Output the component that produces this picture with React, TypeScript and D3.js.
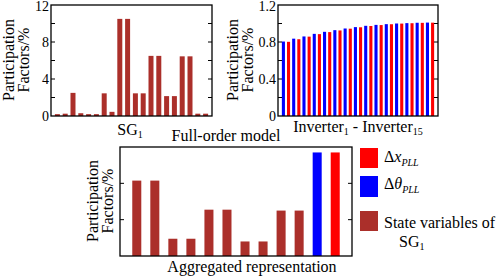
import React from "react";
import * as d3 from "d3";

const sgStates = ["s1","s2","s3","s4","s5","s6","s7","s8","s9","s10","s11","s12","s13","s14","s15","s16","s17","s18","s19","s20"];
const sgValues = [0.2, 0.25, 2.5, 0.3, 0.2, 0.2, 2.45, 0.45, 10.5, 10.5, 2.45, 2.45, 6.5, 6.5, 2.15, 2.15, 6.45, 6.45, 0.25, 0.25];

const invIds = ["1","2","3","4","5","6","7","8","9","10","11","12","13","14","15"];
const invTheta = [0.805, 0.836, 0.86, 0.888, 0.91, 0.928, 0.946, 0.961, 0.975, 0.985, 0.993, 1.0, 1.004, 1.008, 1.01];
const invX = [0.802, 0.83, 0.858, 0.885, 0.907, 0.925, 0.944, 0.959, 0.973, 0.983, 0.992, 0.999, 1.003, 1.007, 1.009];

const aggStates = ["a1","a2","a3","a4","a5","a6","a7","a8","a9","a10","theta","x"];
const aggValues = [8.3, 8.3, 1.9, 1.9, 5.1, 5.1, 1.6, 1.6, 5.0, 5.0, 11.4, 11.4];
const aggKinds = ["sg","sg","sg","sg","sg","sg","sg","sg","sg","sg","theta","x"];

const topLeftTicks = [0, 4, 8, 12];
const topLeftMinor = [2, 4, 6, 8, 10];
const topRightTicks = [0, 0.4, 0.8, 1.2];
const topRightMinor = [0.2, 0.4, 0.6, 0.8, 1.0];
const bottomMinor = [4, 8];

const BROWN = "#AB2F2A";
const BLUE = "#0000FF";
const RED = "#FF0000";
const FONT = "'Liberation Serif', 'Times New Roman', serif";

function Frame({ x0, x1, y0, y1, minor, y }: any) {
  return (
    <g>
      <rect x={x0} y={y1} width={x1 - x0} height={y0 - y1} fill="none" stroke="#000" strokeWidth={1.3} />
      {minor.map((v: number) => (
        <g key={v}>
          <line x1={x0} x2={x0 + 4} y1={y(v)} y2={y(v)} stroke="#000" strokeWidth={1} />
          <line x1={x1} x2={x1 - 4} y1={y(v)} y2={y(v)} stroke="#000" strokeWidth={1} />
        </g>
      ))}
    </g>
  );
}

function YLabel({ cx, cy }: any) {
  return (
    <g transform={`translate(${cx},${cy}) rotate(-90)`} fontFamily={FONT} fontSize={16} textAnchor="middle">
      <text x={0} y={0}>Participation</text>
      <text x={0} y={15}>Factors/%</text>
    </g>
  );
}

export default function App() {
  const tlX = d3.scaleBand<string>().domain(sgStates).range([51, 212]).paddingInner(0.36).paddingOuter(0.5);
  const tlY = d3.scaleLinear().domain([0, 12]).range([116, 5]);

  const invKeys: string[] = [];
  const invVals: number[] = [];
  const invCols: string[] = [];
  invIds.forEach((id, i) => {
    invKeys.push("t" + id); invVals.push(invTheta[i]); invCols.push(BLUE);
    invKeys.push("x" + id); invVals.push(invX[i]); invCols.push(RED);
  });
  const trX = d3.scaleBand<string>().domain(invKeys).range([278, 438]).paddingInner(0.4).paddingOuter(0.75);
  const trY = d3.scaleLinear().domain([0, 1.2]).range([116, 5]);

  const bX = d3.scaleBand<string>().domain(aggStates).range([120, 352]).paddingInner(0.5).paddingOuter(0.68);
  const bY = d3.scaleLinear().domain([0, 12]).range([256, 147]);
  const kindColor: Record<string, string> = { sg: BROWN, theta: BLUE, x: RED };

  return (
    <svg width={498} height={277} style={{ position: "absolute", left: 0, top: 0, background: "#fff" }}>
      <rect x={0} y={0} width={498} height={277} fill="#fff" />
      {sgStates.map((s, i) => (
        <rect key={s} x={tlX(s)} y={tlY(sgValues[i])} width={tlX.bandwidth()} height={tlY(0) - tlY(sgValues[i])} fill={BROWN} />
      ))}
      <Frame x0={51} x1={212} y0={116} y1={5} minor={topLeftMinor} y={tlY} />
      <g fontFamily={FONT} fontSize={14} textAnchor="end">
        {topLeftTicks.map((t) => (
          <text key={t} x={49} y={Math.max(11, tlY(t) + 5)}>{t}</text>
        ))}
      </g>
      <YLabel cx={14} cy={60} />
      <text x={130} y={135} fontFamily={FONT} fontSize={16} textAnchor="middle">
        SG<tspan fontSize={10} dy={3}>1</tspan>
      </text>

      {invKeys.map((k, i) => (
        <rect key={k} x={trX(k)} y={trY(invVals[i])} width={trX.bandwidth()} height={trY(0) - trY(invVals[i])} fill={invCols[i]} />
      ))}
      <Frame x0={278} x1={438} y0={116} y1={5} minor={topRightMinor} y={trY} />
      <g fontFamily={FONT} fontSize={14} textAnchor="end">
        {topRightTicks.map((t) => (
          <text key={t} x={276} y={Math.max(11, trY(t) + 5)}>{t === 0 ? "0" : t.toFixed(1)}</text>
        ))}
      </g>
      <YLabel cx={238} cy={60} />
      <text x={358} y={132} fontFamily={FONT} fontSize={16} textAnchor="middle">
        Inverter<tspan fontSize={10} dy={3}>1</tspan><tspan dy={-3}> - Inverter</tspan><tspan fontSize={10} dy={3}>15</tspan>
      </text>

      <text x={226} y={141} fontFamily={FONT} fontSize={16} textAnchor="middle">Full-order model</text>

      {aggStates.map((s, i) => (
        <rect key={s} x={bX(s)} y={bY(aggValues[i])} width={bX.bandwidth()} height={bY(0) - bY(aggValues[i])} fill={kindColor[aggKinds[i]]} />
      ))}
      <Frame x0={120} x1={352} y0={256} y1={147} minor={bottomMinor} y={bY} />
      <YLabel cx={98} cy={201} />
      <text x={252} y={272} fontFamily={FONT} fontSize={16} textAnchor="middle">Aggregated representation</text>

      <rect x={360} y={148} width={18} height={20} fill={RED} />
      <rect x={360} y={176} width={18} height={21} fill={BLUE} />
      <rect x={360} y={211} width={18} height={20} fill={BROWN} />
      <g fontFamily={FONT} fontSize={16}>
        <text x={384} y={162}>Δ<tspan fontStyle="italic">x</tspan><tspan fontStyle="italic" fontSize={10} dy={4}>PLL</tspan></text>
        <text x={384} y={189}>Δ<tspan fontStyle="italic">θ</tspan><tspan fontStyle="italic" fontSize={10} dy={4}>PLL</tspan></text>
        <text x={384} y={228}>State variables of</text>
        <text x={399} y={247}>SG<tspan fontSize={10} dy={3}>1</tspan></text>
      </g>
    </svg>
  );
}
